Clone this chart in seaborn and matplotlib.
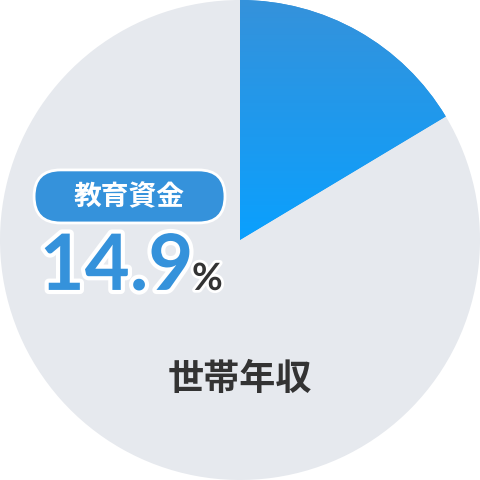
import numpy as np
import matplotlib
matplotlib.use("Agg")
import matplotlib.pyplot as plt
import matplotlib.patheffects as pe
from matplotlib.patches import FancyBboxPatch
import seaborn as sns

# data
segments = ["教育資金", "世帯年収"]
shares = [16.4, 83.6]          # drawn wedge size
label_value = "14.9"           # printed value
label_unit = "%"

sns.set_theme(style="white")
plt.rcParams['font.family'] = ['Noto Sans CJK JP', 'DejaVu Sans']

gray = "#E6E9EE"
blue = "#3592DB"
dark = "#333333"

fig = plt.figure(figsize=(4.8, 4.8), dpi=100)
ax = fig.add_axes([0, 0, 1, 1])

wedges, _ = ax.pie(shares, colors=[blue, gray], startangle=90, counterclock=False,
                   radius=1, center=(0, 0), wedgeprops=dict(linewidth=0))

# gradient fill in the education wedge
grad = np.linspace(0, 1, 256).reshape(-1, 1)
cmap = matplotlib.colors.LinearSegmentedColormap.from_list("g", ["#0AA0FE", "#3592DB"])
img = ax.imshow(grad, cmap=cmap, extent=(0, 1, 0, 1), origin="lower", aspect="auto", zorder=2)
img.set_clip_path(wedges[0])

ax.set_xlim(-1, 1)
ax.set_ylim(-1, 1)
ax.set_aspect("equal")
ax.axis("off")

# pill label
x0, x1, y0, y1 = -0.858, -0.0625, 0.071, 0.292
h = y1 - y0
pill = FancyBboxPatch((x0, y0), x1 - x0, h, boxstyle=f"round,pad=0,rounding_size={h / 2}",
                      facecolor=blue, edgecolor="white", linewidth=2, zorder=3)
ax.add_patch(pill)
ax.text(-0.46, 0.18, segments[0], color="white", fontsize=20, fontweight="bold",
        ha="center", va="center", zorder=4)

ax.text(-0.835, -0.208, label_value, color=blue, fontsize=56, fontweight="bold",
        family=["Lato", "DejaVu Sans"], ha="left", va="baseline", zorder=4,
        path_effects=[pe.withStroke(linewidth=6, foreground="white")])
ax.text(-0.2, -0.208, label_unit, color=dark, fontsize=27, fontweight="bold",
        family=["Lato", "DejaVu Sans"], ha="left", va="baseline", zorder=4,
        path_effects=[pe.withStroke(linewidth=4, foreground="white")])

ax.text(0, -0.58, segments[1], color=dark, fontsize=26, fontweight="bold",
        ha="center", va="center", zorder=4)

fig.savefig("out.png", dpi=100, facecolor="white")
